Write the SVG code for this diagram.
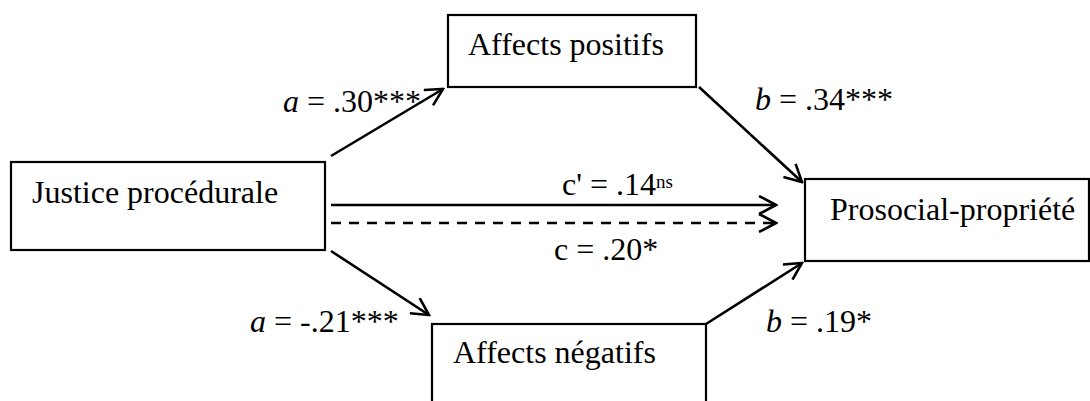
<svg xmlns="http://www.w3.org/2000/svg" width="1090" height="401" viewBox="0 0 1090 401">
<style>
.box{fill:#fff;stroke:#000;stroke-width:2.2}
.t{font-family:"Liberation Serif","Times New Roman",serif;font-size:32px;fill:#000}
.i{font-style:italic}
.sup{font-size:19px}
.ln{fill:none;stroke:#000;stroke-width:2.6}
.dash{stroke-dasharray:10 8}
</style>
<defs>
<marker id="ah" viewBox="0 0 20 20" refX="18" refY="10" markerWidth="20" markerHeight="20" markerUnits="userSpaceOnUse" orient="auto">
<path d="M1,1 L18,10 L1,19" fill="none" stroke="#000" stroke-width="2.6"/>
</marker>
</defs>
<rect width="1090" height="401" fill="#fff"/>
<g id="connectors">
<line class="ln" x1="331" y1="156" x2="443" y2="89" marker-end="url(#ah)"/>
<line class="ln" x1="699" y1="87" x2="802" y2="182" marker-end="url(#ah)"/>
<line class="ln" x1="331" y1="205" x2="776" y2="205" marker-end="url(#ah)"/>
<line class="ln dash" x1="331" y1="223" x2="776" y2="223" marker-end="url(#ah)"/>
<line class="ln" x1="331" y1="251" x2="429" y2="315" marker-end="url(#ah)"/>
<line class="ln" x1="706" y1="324" x2="802" y2="263" marker-end="url(#ah)"/>
<text class="t" x="283" y="112"><tspan class="i">a</tspan> = .30***</text>
<text class="t" x="755" y="110"><tspan class="i">b</tspan> = .34***</text>
<text class="t" x="562" y="195">c' = .14<tspan class="sup" dy="-7">ns</tspan></text>
<text class="t" x="554" y="260">c = .20*</text>
<text class="t" x="250" y="332"><tspan class="i">a</tspan> = -.21***</text>
<text class="t" x="766" y="332"><tspan class="i">b</tspan> = .19*</text>
</g>
<g id="justice">
<rect class="box" x="11" y="162" width="314" height="88"/>
<text class="t" x="32" y="203">Justice procédurale</text>
</g>
<g id="affects-positifs">
<rect class="box" x="448" y="15" width="248" height="72"/>
<text class="t" x="468" y="55">Affects positifs</text>
</g>
<g id="prosocial">
<rect class="box" x="805" y="179" width="284" height="82"/>
<text class="t" x="830" y="220">Prosocial-propriété</text>
</g>
<g id="affects-negatifs">
<rect class="box" x="432" y="324" width="274" height="100"/>
<text class="t" x="453" y="363">Affects négatifs</text>
</g>
</svg>
